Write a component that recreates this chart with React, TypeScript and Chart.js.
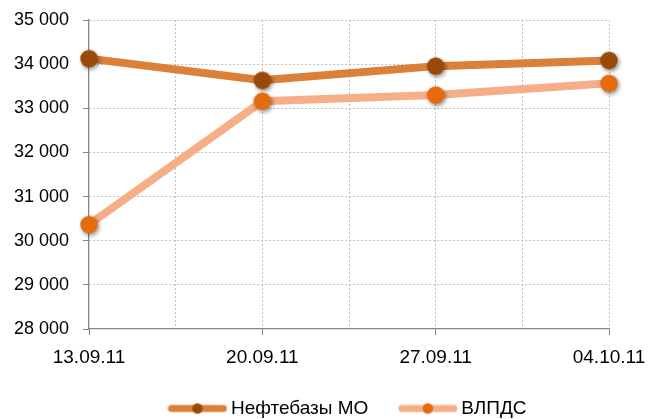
import React, { useEffect, useRef } from "react";
import { Chart, registerables } from "chart.js";

Chart.register(...registerables);

const dateLabels = ["13.09.11", "20.09.11", "27.09.11", "04.10.11"];
const seriesNames = ["Нефтебазы МО", "ВЛПДС"];
const neftebazy = [34125, 33635, 33955, 34085];
const vlpds = [30365, 33160, 33300, 33565];
const yTicksMin = 28000;
const yTicksMax = 35000;
const yStep = 1000;

const LINE1 = "#DB8039";
const MARK1 = "#9A4A08";
const LINE2 = "#F6AE87";
const MARK2 = "#E46C0C";
const AXIS = "#868686";
const GRID = "#BFBFBF";
const FONT = "'Liberation Sans', Arial, sans-serif";

function markerImage(color: string): HTMLCanvasElement {
  const c = document.createElement("canvas");
  c.width = 30;
  c.height = 30;
  const g = c.getContext("2d")!;
  g.shadowColor = "rgba(0,0,0,0.45)";
  g.shadowBlur = 4;
  g.shadowOffsetX = 1.5;
  g.shadowOffsetY = 2;
  g.fillStyle = color;
  g.beginPath();
  g.arc(15, 15, 8.7, 0, Math.PI * 2);
  g.fill();
  return c;
}

function legendImage(line: string, mark: string): HTMLCanvasElement {
  const c = document.createElement("canvas");
  c.width = 60;
  c.height = 20;
  const g = c.getContext("2d")!;
  g.strokeStyle = line;
  g.lineWidth = 7;
  g.lineCap = "round";
  g.beginPath();
  g.moveTo(4, 10);
  g.lineTo(56, 10);
  g.stroke();
  g.fillStyle = mark;
  g.beginPath();
  g.arc(30, 10, 5.3, 0, Math.PI * 2);
  g.fill();
  return c;
}

function fmt(v: number): string {
  return String(v).replace(/\B(?=(\d{3})+(?!\d))/g, " ");
}

const legendShift = {
  id: "legendShift",
  afterLayout(chart: any) {
    if (chart.legend) chart.legend.left += 51;
  },
};

export default function App() {
  const ref = useRef<HTMLCanvasElement | null>(null);

  useEffect(() => {
    if (!ref.current) return;
    const m1 = markerImage(MARK1);
    const m2 = markerImage(MARK2);
    const l1 = legendImage(LINE1, MARK1);
    const l2 = legendImage(LINE2, MARK2);

    const chart = new Chart(ref.current, {
      type: "line",
      data: {
        datasets: [
          {
            label: seriesNames[0],
            data: neftebazy.map((v, i) => ({ x: i, y: v })),
            borderColor: LINE1,
            backgroundColor: MARK1,
            borderWidth: 8,
            borderJoinStyle: "round",
            pointStyle: m1 as any,
            pointRadius: 9,
            clip: false as any,
            order: 2,
          },
          {
            label: seriesNames[1],
            data: vlpds.map((v, i) => ({ x: i, y: v })),
            borderColor: LINE2,
            backgroundColor: MARK2,
            borderWidth: 8,
            borderJoinStyle: "round",
            pointStyle: m2 as any,
            pointRadius: 9,
            clip: false as any,
            order: 1,
          },
        ],
      },
      options: {
        responsive: false,
        animation: false,
        events: [],
        layout: { padding: { left: 0, right: 0, top: 20, bottom: -9 } },
        scales: {
          x: {
            type: "linear",
            min: 0,
            max: dateLabels.length - 1,
            afterFit: (s: any) => {
              s.height = 34.5;
              s.paddingRight = 40;
            },
            ticks: {
              stepSize: 0.5,
              autoSkip: false,
              maxRotation: 0,
              padding: 11,
              color: "#000",
              font: { family: FONT, size: 19 },
              callback: (v: any) =>
                Number.isInteger(v) ? dateLabels[v as number] : "",
            },
            grid: {
              color: (c: any) =>
                c.tick && c.tick.value === 0 ? "transparent" : GRID,
              tickColor: (c: any) =>
                c.tick && Number.isInteger(c.tick.value) ? AXIS : "transparent",
              tickLength: 6,
              lineWidth: 1,
            },
            border: { display: true, color: AXIS, width: 1.3, dash: [2, 2] },
          },
          y: {
            min: yTicksMin,
            max: yTicksMax,
            afterFit: (s: any) => {
              s.width = 89;
              s.paddingTop = 0;
              s.paddingBottom = 0;
            },
            ticks: {
              stepSize: yStep,
              padding: 14,
              color: "#000",
              font: { family: FONT, size: 18 },
              callback: (v: any) => fmt(Number(v)),
            },
            grid: {
              color: (c: any) =>
                c.tick && c.tick.value === yTicksMin ? "transparent" : GRID,
              tickColor: AXIS,
              tickLength: 6,
              lineWidth: 1,
            },
            border: { display: true, color: AXIS, width: 1.3, dash: [2, 2] },
          },
        },
        plugins: {
          tooltip: { enabled: false },
          legend: {
            position: "bottom",
            labels: {
              usePointStyle: true,
              pointStyleWidth: 48,
              padding: 35.5,
              color: "#000",
              font: { family: FONT, size: 19 },
              generateLabels: () => [
                {
                  text: seriesNames[0],
                  pointStyle: l1 as any,
                  fillStyle: "transparent",
                  strokeStyle: "transparent",
                  lineWidth: 0,
                  hidden: false,
                  datasetIndex: 0,
                  fontColor: "#000",
                },
                {
                  text: seriesNames[1],
                  pointStyle: l2 as any,
                  fillStyle: "transparent",
                  strokeStyle: "transparent",
                  lineWidth: 0,
                  hidden: false,
                  datasetIndex: 1,
                  fontColor: "#000",
                },
              ],
            },
          },
        },
      } as any,
      plugins: [legendShift],
    });
    return () => chart.destroy();
  }, []);

  return (
    <div
      style={{
        position: "fixed",
        left: 0,
        top: 0,
        width: 649,
        height: 419,
        background: "#fff",
        overflow: "hidden",
      }}
    >
      <canvas ref={ref} width={649} height={419} style={{ display: "block" }} />
    </div>
  );
}
